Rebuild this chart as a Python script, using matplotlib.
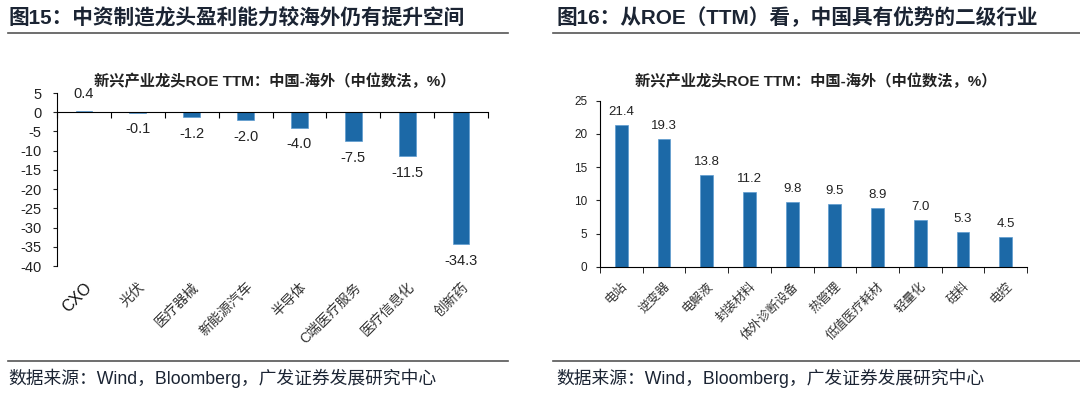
import matplotlib
matplotlib.use("Agg")
import matplotlib.pyplot as plt
import numpy as np
from matplotlib.lines import Line2D

plt.rcParams['font.family'] = ['Liberation Sans', 'Noto Sans CJK SC']
plt.rcParams['axes.unicode_minus'] = False

# data
left_cats = ['CXO', '光伏', '医疗器械', '新能源汽车', '半导体', 'C端医疗服务', '医疗信息化', '创新药']
left_vals = [0.4, -0.1, -1.2, -2.0, -4.0, -7.5, -11.5, -34.3]
right_cats = ['电站', '逆变器', '电解液', '封装材料', '体外诊断设备', '热管理', '低值医疗耗材', '轻量化', '硅料', '电控']
right_vals = [21.4, 19.3, 13.8, 11.2, 9.8, 9.5, 8.9, 7.0, 5.3, 4.5]

left_title = '图15：中资制造龙头盈利能力较海外仍有提升空间'
right_title = '图16：从ROE（TTM）看，中国具有优势的二级行业'
chart_title = '新兴产业龙头ROE TTM：中国-海外（中位数法，%）'
source = '数据来源：Wind，Bloomberg，广发证券发展研究中心'

bar_color = '#1c69a7'
text_dark = '#1b2433'
W, H = 1080, 394

fig = plt.figure(figsize=(W / 100, H / 100), dpi=100)


def fx(px):
    return px / W


def fy(py):
    return 1 - py / H


# headers and rules
fig.text(fx(8), fy(18), left_title, fontsize=14.9, fontweight='bold', color=text_dark, va='center', ha='left')
fig.text(fx(556), fy(18), right_title, fontsize=14.9, fontweight='bold', color=text_dark, va='center', ha='left')
for x0, x1 in [(8, 508), (553, 1080)]:
    fig.add_artist(Line2D([fx(x0), fx(x1)], [fy(33), fy(33)], color='#555555', lw=1.2, transform=fig.transFigure))
    fig.add_artist(Line2D([fx(x0), fx(x1)], [fy(361), fy(361)], color='#555555', lw=1.2, transform=fig.transFigure))
fig.text(fx(8), fy(378), source, fontsize=12.8, color=text_dark, va='center', ha='left')
fig.text(fx(556), fy(378), source, fontsize=12.8, color=text_dark, va='center', ha='left')

# ---- left chart
ax1 = fig.add_axes([fx(57), fy(266), fx(488 - 57), (266 - 93) / H])
xl = np.arange(len(left_cats))
bars1 = ax1.bar(xl, left_vals, width=0.31, color=bar_color, edgecolor='#5d9bd0', linewidth=0.5)
ax1.bar_label(bars1, fmt='%.1f', padding=7, fontsize=10.5, color='#222222')
ax1.set_xlim(-0.5, len(left_cats) - 0.5)
ax1.set_ylim(-40, 5)
ax1.set_yticks(np.arange(-40, 6, 5))
ax1.tick_params(axis='y', length=3, pad=8, labelsize=10.5, colors='#222222')
for s in ['top', 'right']:
    ax1.spines[s].set_visible(False)
ax1.spines['bottom'].set_position(('data', 0))
ax1.set_xticks(np.arange(-0.5, len(left_cats), 1))
ax1.tick_params(axis='x', length=4, labelbottom=False)
sec = ax1.secondary_xaxis('bottom')
sec.set_xticks(xl, left_cats, rotation=45, ha='right', va='top', rotation_mode='anchor')
sec.tick_params(length=0, pad=10, labelsize=10, labelcolor='#333333')
sec.spines['bottom'].set_visible(False)
for lbl in sec.get_xticklabels():
    if lbl.get_text() == 'CXO':
        lbl.set_fontsize(11.5)
        lbl.set_color('#111111')
fig.text(fx(275), fy(81), chart_title, fontsize=11, fontweight='bold', color='#222222', ha='center', va='center')

# ---- right chart
ax2 = fig.add_axes([fx(600), fy(266.7), fx(1027 - 600), (266.7 - 100.7) / H])
xr = np.arange(len(right_cats))
bars2 = ax2.bar(xr, right_vals, width=0.3, color=bar_color, edgecolor='#5d9bd0', linewidth=0.5)
ax2.bar_label(bars2, fmt='%.1f', padding=5, fontsize=9.5, color='#222222')
ax2.set_xlim(-0.5, len(right_cats) - 0.5)
ax2.set_ylim(0, 25)
ax2.set_yticks(np.arange(0, 26, 5))
ax2.tick_params(axis='y', length=3, pad=6, labelsize=8.5, colors='#222222')
for s in ['top', 'right']:
    ax2.spines[s].set_visible(False)
ax2.set_xticks(xr, right_cats, rotation=45, ha='right', va='top', rotation_mode='anchor')
ax2.set_xticks(np.arange(-0.5, len(right_cats), 1), minor=True)
ax2.tick_params(axis='x', which='major', length=0, pad=10, labelsize=9, labelcolor='#333333')
ax2.tick_params(axis='x', which='minor', length=4)
fig.text(fx(816), fy(81), chart_title, fontsize=11, fontweight='bold', color='#222222', ha='center', va='center')

fig.savefig('out.png', dpi=100)
